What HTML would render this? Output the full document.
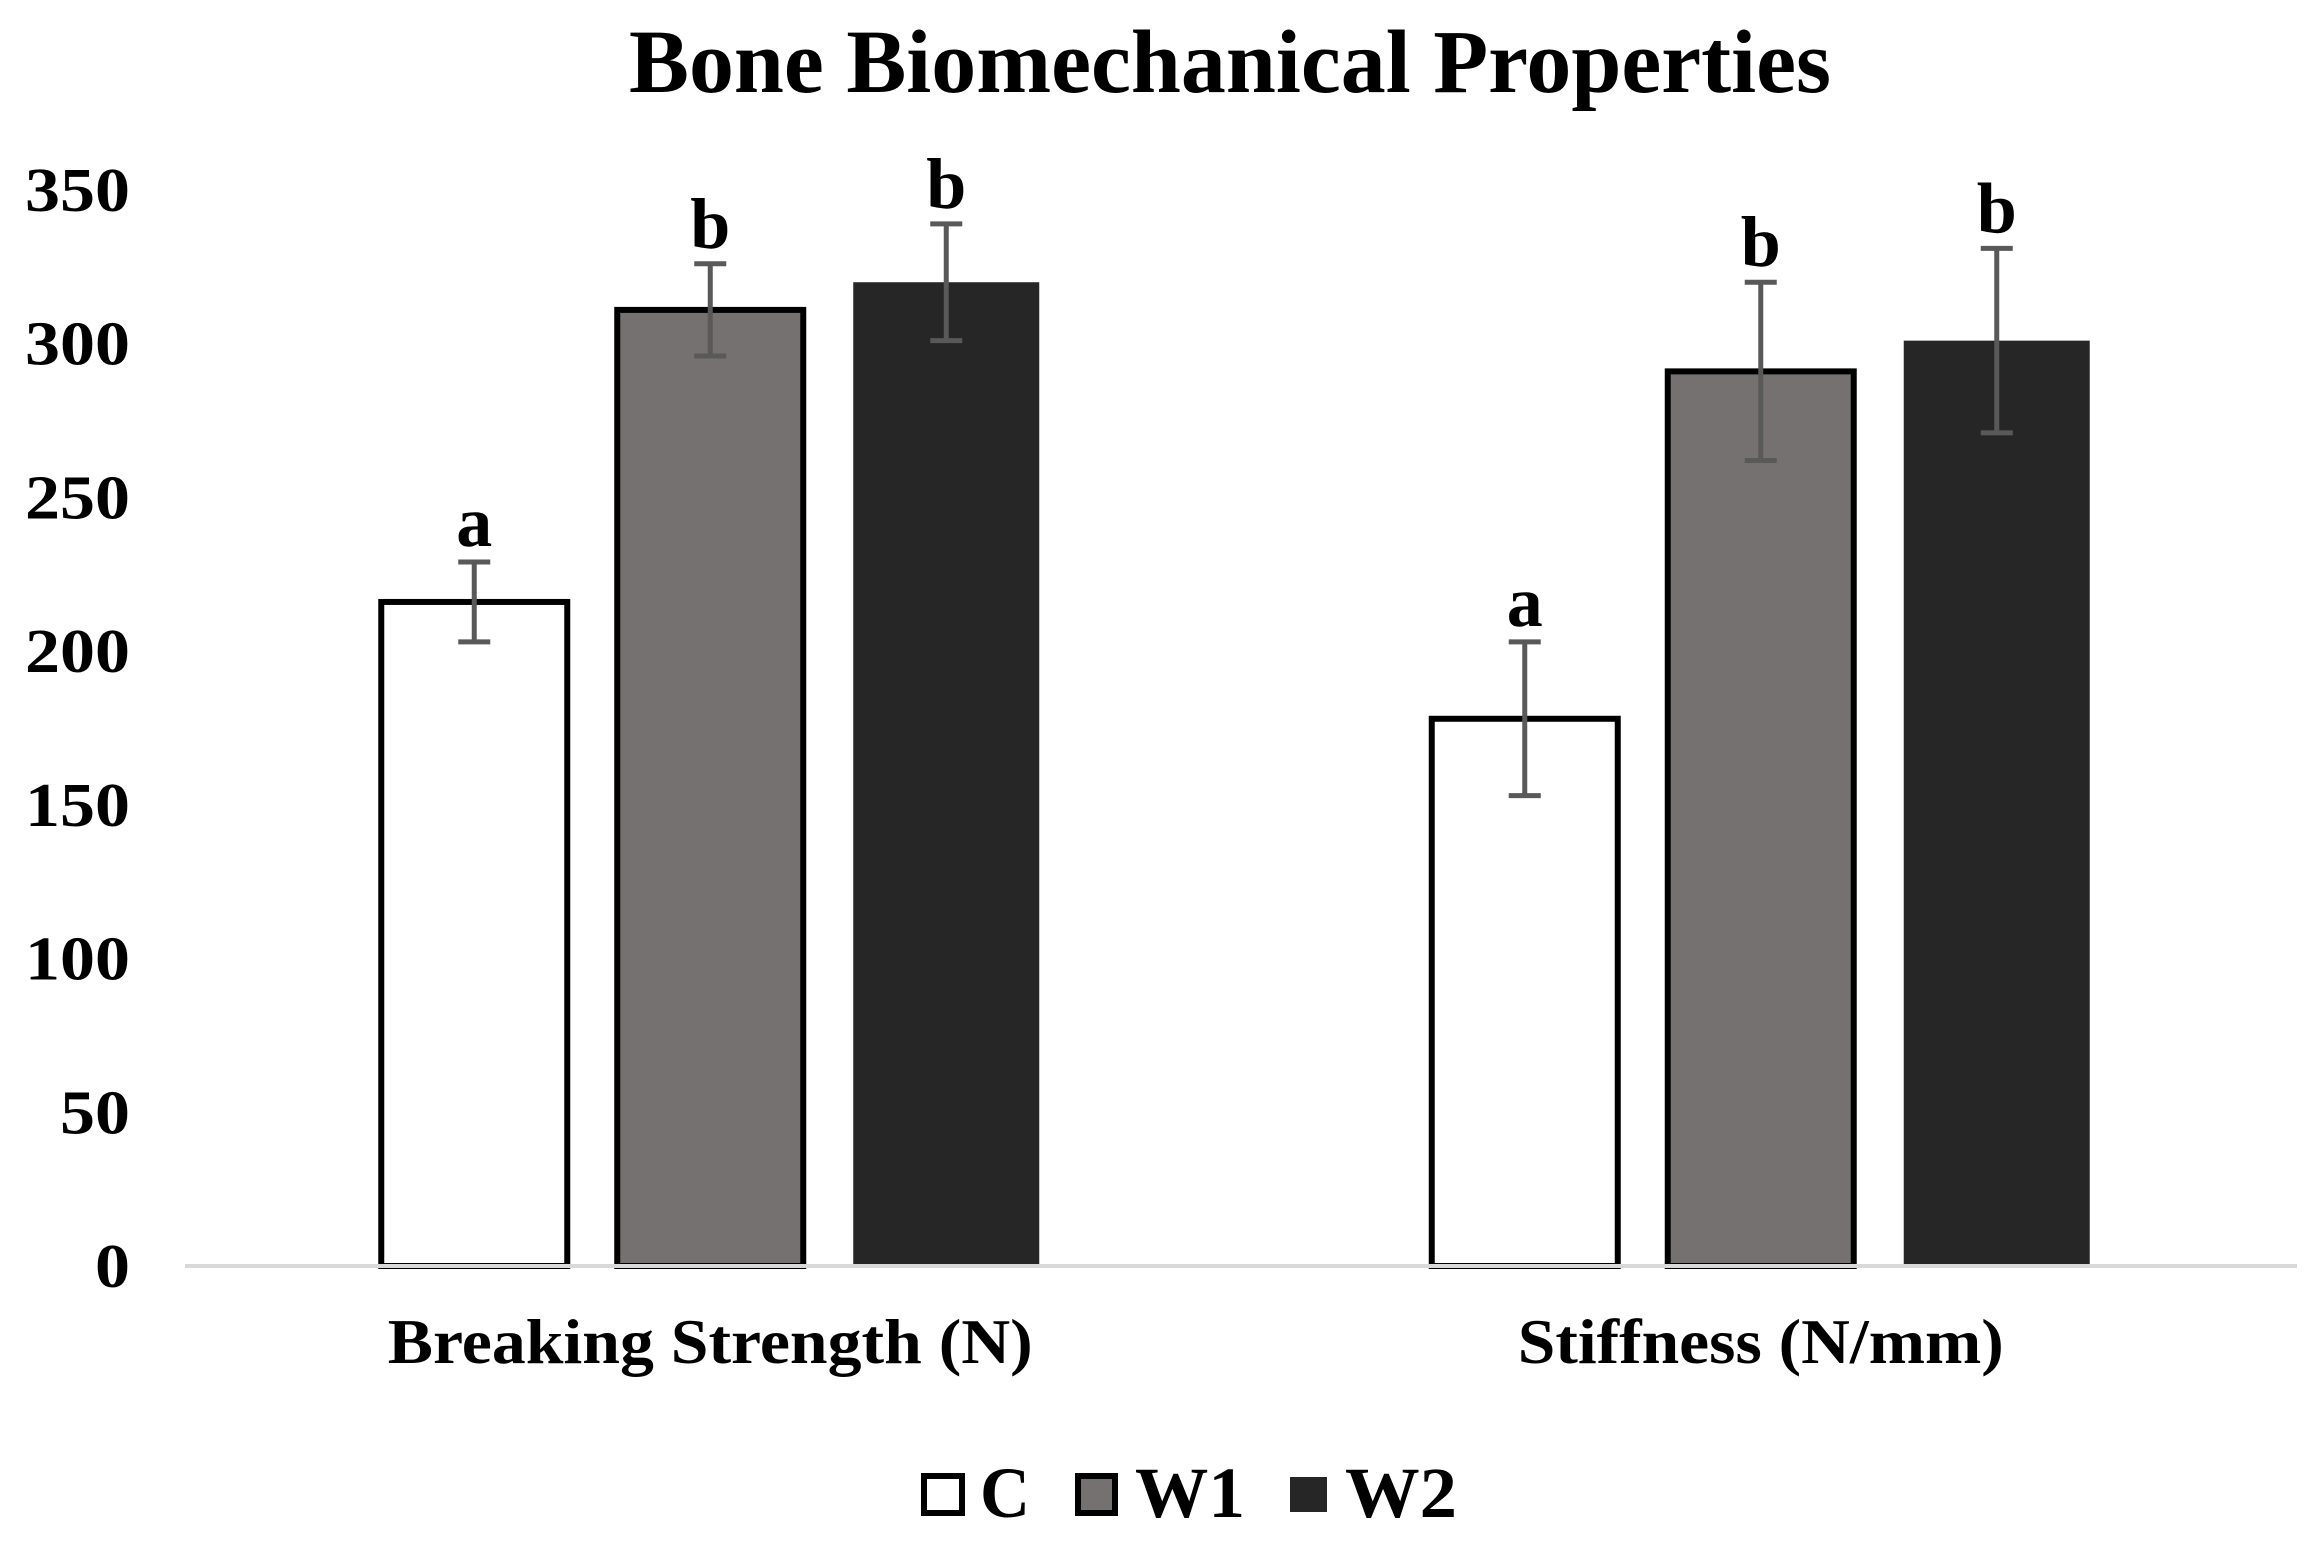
<!DOCTYPE html>
<html><head><meta charset="utf-8"><style>html,body{margin:0;padding:0;background:#fff}svg{display:block}</style></head>
<body>
<svg id="chart" width="2315" height="1553" viewBox="0 0 2315 1553" xmlns="http://www.w3.org/2000/svg" font-family="'Liberation Serif', serif" font-weight="bold">
<rect width="2315" height="1553" fill="#fff"/>
<text x="1230" y="92" font-size="90" text-anchor="middle" textLength="1202" lengthAdjust="spacingAndGlyphs">Bone Biomechanical Properties</text>
<g id="yaxis"></g>
<g id="bars"></g>
<line x1="185" y1="1266" x2="2297" y2="1266" stroke="#d9d9d9" stroke-width="4"/>
<g id="xaxis"></g>
<g>
 <g><rect x="924" y="1476" width="38" height="37" fill="#fff" stroke="#000" stroke-width="6"/><text x="980" y="1517" font-size="72" textLength="50" lengthAdjust="spacingAndGlyphs">C</text></g>
 <g><rect x="1078" y="1476" width="37" height="37" fill="#767171" stroke="#000" stroke-width="6"/><text x="1135" y="1517" font-size="72" textLength="110" lengthAdjust="spacingAndGlyphs">W1</text></g>
 <g><rect x="1290" y="1477" width="37" height="35" fill="#262626"/><text x="1345" y="1517" font-size="72" textLength="112" lengthAdjust="spacingAndGlyphs">W2</text></g>
</g>
</svg>
<script>
const categories = ["Breaking Strength (N)", "Stiffness (N/mm)"];
const seriesNames = ["C", "W1", "W2"];
const valuesC = [216, 178];
const valuesW1 = [311, 291];
const valuesW2 = [320, 301];
const errC = [13, 25];
const errW1 = [15, 29];
const errW2 = [19, 30];
const lettersC = ["a", "a"];
const lettersW1 = ["b", "b"];
const lettersW2 = ["b", "b"];
const yTicks = [0, 50, 100, 150, 200, 250, 300, 350];

const NS = "http://www.w3.org/2000/svg";
const plotLeft = 185, plotRight = 2286, y0 = 1266, yMax = 350, yTop = 190;
function yScale(v){ return y0 - v * (y0 - yTop) / yMax; }
const catW = (plotRight - plotLeft) / categories.length;
function catCenter(i){ return plotLeft + catW * (i + 0.5); }
const barW = 186, barStep = 236;
function barX(i, s){ return catCenter(i) + (s - 1) * barStep - barW / 2; }
function mk(tag, attrs, parent){ const e = document.createElementNS(NS, tag); for (const k in attrs) e.setAttribute(k, attrs[k]); parent.appendChild(e); return e; }

const yG = document.getElementById('yaxis');
yTicks.forEach(t => {
  const w = String(t).length * 35;
  const el = mk('text', {x: 130, y: yScale(t) + 21, 'font-size': 62, 'text-anchor': 'end', textLength: w, lengthAdjust: 'spacingAndGlyphs'}, yG);
  
  
  el.textContent = t;
});

const xG = document.getElementById('xaxis');
const catWidths = [645, 486];
categories.forEach((c, i) => {
  const el = mk('text', {x: catCenter(i), y: 1363, 'font-size': 64, 'text-anchor': 'middle', textLength: catWidths[i], lengthAdjust: 'spacingAndGlyphs'}, xG);
  
  
  el.textContent = c;
});

const vals = [valuesC, valuesW1, valuesW2];
const errs = [errC, errW1, errW2];
const letters = [lettersC, lettersW1, lettersW2];
const fills = ["#ffffff", "#767171", "#262626"];
const strokes = ["#000", "#000", "none"];
const bG = document.getElementById('bars');
categories.forEach((c, i) => {
  vals.forEach((arr, s) => {
    const v = arr[i], x = barX(i, s), yv = yScale(v);
    const r = mk('rect', {x: x, y: yv, width: barW, height: y0 - yv, fill: fills[s], stroke: strokes[s], 'stroke-width': 6}, bG);
    
    
    const cx = x + barW / 2, e = errs[s][i];
    const yHi = yScale(v + e), yLo = yScale(v - e);
    const eg = mk('g', {stroke: '#595959', 'stroke-width': 5}, bG);
    
    
    mk('line', {x1: cx, y1: yHi, x2: cx, y2: yLo}, eg);
    mk('line', {x1: cx - 16, y1: yHi, x2: cx + 16, y2: yHi}, eg);
    mk('line', {x1: cx - 16, y1: yLo, x2: cx + 16, y2: yLo}, eg);
    const t = mk('text', {x: cx, y: yHi - 16, 'font-size': 72, 'text-anchor': 'middle'}, bG);
    
    
    t.textContent = letters[s][i];
  });
});
</script>
</body></html>
